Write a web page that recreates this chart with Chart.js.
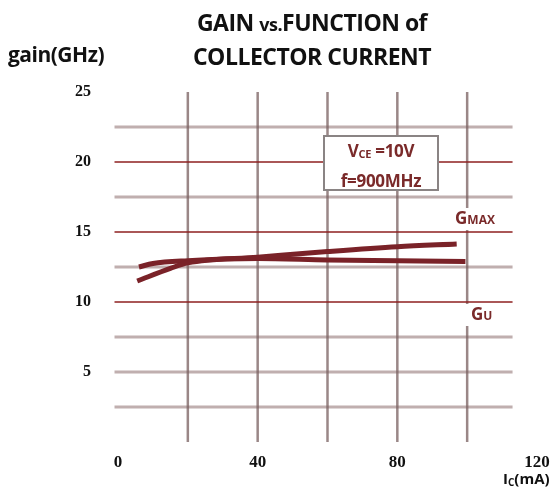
<!DOCTYPE html>
<html>
<head>
<meta charset="utf-8">
<script src="https://cdn.jsdelivr.net/npm/chart.js@4.4.1/dist/chart.umd.min.js"></script>
<style>
    body { margin: 0; background: #fff; }
    #wrap { position: relative; width: 552px; height: 491px; overflow: hidden; font-family: "Open Sans", sans-serif; }
    #gainChart { position: absolute; left: 0; top: 0; }
    .txt { position: absolute; white-space: nowrap; font-weight: bold; }
    #title { left: 162px; top: 6px; width: 300px; text-align: center; font-size: 23px; line-height: 32px; color: #111; letter-spacing: -0.5px; }
    #title small { font-size: 18px; }
    #yname { left: 8px; top: 40px; font-size: 21px; color: #111; letter-spacing: -0.5px; }
    #xname { left: 503px; top: 468px; font-size: 15px; color: #111; }
    #xname sub { font-size: 10px; vertical-align: -2px; }
    #cond { left: 323px; top: 135px; width: 112px; height: 52px; border: 2px solid #8a8484; background: #fff;
            color: #7a2a2a; font-size: 17px; line-height: 27px; text-align: center; letter-spacing: -0.3px; }
    #cond sub { font-size: 11px; vertical-align: -1px; }
    .glab { color: #7a2a2a; font-size: 17px; background: #fff; line-height: 20px; }
    .glab small { font-size: 12px; }
    #gmax { left: 454px; top: 208px; padding: 0 2px 0 1px; }
    #gu { left: 462px; top: 304px; padding: 0 2px 0 9px; }
</style>
</head>
<body>
<div id="wrap">
    <canvas id="gainChart" width="552" height="491"></canvas>
    <div class="txt" id="title">GAIN <small>vs.</small>FUNCTION of<br>COLLECTOR CURRENT</div>
    <div class="txt" id="yname">gain(GHz)</div>
    <div class="txt" id="xname">I<sub>C</sub>(mA)</div>
    <div class="txt" id="cond">V<sub>CE</sub> =10V<br>f=900MHz</div>
    <div class="txt glab" id="gmax">G<small>MAX</small></div>
    <div class="txt glab" id="gu">G<small>U</small></div>
</div>
<script>
// curves (Ic in mA, gain)
var gmaxIc = [5.5, 15, 20, 40, 60, 80, 97];
var gmaxGain = [11.5, 12.4, 12.8, 13.2, 13.6, 13.95, 14.15];
var guIc = [6, 10, 20, 40, 60, 80, 99.5];
var guGain = [12.5, 12.75, 12.95, 13.1, 13.0, 12.95, 12.9];

// grid of the paper
var gridIc = [20, 40, 60, 80, 100];
var gridGray = [2.5, 5, 7.5, 12.5, 17.5, 22.5];
var gridRed = [10, 15, 20];

function toPoints(xs, ys) {
    var pts = [];
    for (var i = 0; i < xs.length; i++) {
        pts.push({ x: xs[i], y: ys[i] });
    }
    return pts;
}

var paperGrid = {
    id: 'paperGrid',
    beforeDatasetsDraw: function (chart) {
        var ctx = chart.ctx;
        var x = chart.scales.x, y = chart.scales.y;
        var left = x.getPixelForValue(-1), right = x.getPixelForValue(113);
        ctx.save();
        ctx.lineCap = 'butt';

        ctx.strokeStyle = 'rgba(150, 122, 122, 0.6)';
        ctx.lineWidth = 3;
        gridGray.forEach(function (v) {
            var py = y.getPixelForValue(v);
            ctx.beginPath(); ctx.moveTo(left, py); ctx.lineTo(right, py); ctx.stroke();
        });

        ctx.strokeStyle = 'rgba(120, 95, 95, 0.75)';
        ctx.lineWidth = 2.5;
        gridIc.forEach(function (v) {
            var px = x.getPixelForValue(v);
            ctx.beginPath(); ctx.moveTo(px, y.getPixelForValue(0)); ctx.lineTo(px, y.getPixelForValue(25)); ctx.stroke();
        });

        ctx.strokeStyle = '#8e1f1f';
        ctx.lineWidth = 1.5;
        gridRed.forEach(function (v) {
            var py = y.getPixelForValue(v);
            ctx.beginPath(); ctx.moveTo(left, py); ctx.lineTo(right, py); ctx.stroke();
        });
        ctx.restore();
    }
};

var tickFont = { family: 'Liberation Serif', weight: 'bold', size: 16 };

var ctx = document.getElementById('gainChart').getContext('2d');
var gainChart = new Chart(ctx, {
    type: 'line',
    data: {
        datasets: [{
                label: 'GMAX',
                data: toPoints(gmaxIc, gmaxGain),
                borderColor: '#7a2228',
                borderWidth: 5,
                pointRadius: 0,
                cubicInterpolationMode: 'monotone'
            }, {
                label: 'GU',
                data: toPoints(guIc, guGain),
                borderColor: '#7a2228',
                borderWidth: 5,
                pointRadius: 0,
                cubicInterpolationMode: 'monotone'
            }]
    },
    options: {
        responsive: false,
        animation: false,
        layout: { padding: { top: 92, left: 0, right: 15, bottom: 0 } },
        plugins: {
            legend: { display: false },
            tooltip: { enabled: false }
        },
        scales: {
            x: {
                type: 'linear',
                min: 0,
                max: 120,
                grid: { display: false },
                border: { display: false },
                ticks: { stepSize: 40, padding: 2, color: '#111', font: { family: 'Liberation Serif', weight: 'bold', size: 17 } },
                afterFit: function (scale) {
                    scale.height = 49;
                    scale.paddingLeft = 0;
                    scale.paddingRight = 0;
                }
            },
            y: {
                min: 0,
                max: 25,
                grid: { display: false },
                border: { display: false },
                ticks: {
                    stepSize: 5,
                    padding: 19,
                    color: '#111',
                    font: tickFont,
                    callback: function (v) { return v === 0 ? '' : v; }
                },
                afterFit: function (scale) { scale.width = 118; }
            }
        }
    },
    plugins: [paperGrid]
});
</script>
</body>
</html>
